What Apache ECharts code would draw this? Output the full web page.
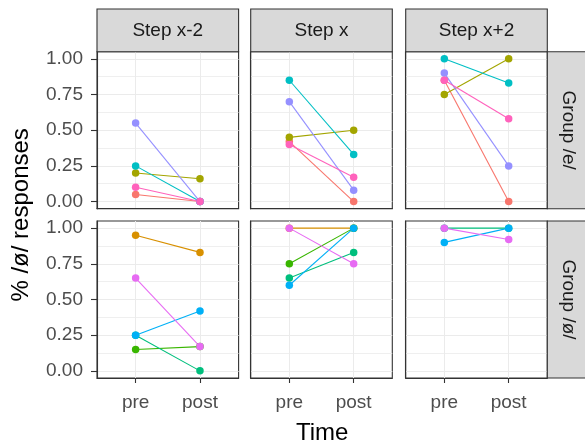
<!DOCTYPE html>
<html>
<head>
<meta charset="utf-8">
<script src="https://cdn.jsdelivr.net/npm/echarts@6/dist/echarts.min.js"></script>
<style>html,body{margin:0;padding:0;background:#fff}#c{width:585px;height:445px}</style>
</head>
<body>
<div id="c"></div>
<script>
// ---- data ----
const timeLabels = ['pre', 'post'];
const steps = ['Step x-2', 'Step x', 'Step x+2'];
const groups = ['Group /e/', 'Group /ø/'];
const yTicks = [0, 0.25, 0.5, 0.75, 1];
const yMinor = [0.125, 0.375, 0.625, 0.875];

// each array: one [pre, post] pair per step (Step x-2, Step x, Step x+2); null = no data
// Group /e/
const eRed    = [[0.05, 0.00], [0.42, 0.00], [0.85, 0.00]];
const eOlive  = [[0.20, 0.16], [0.45, 0.50], [0.75, 1.00]];
const eCyan   = [[0.25, 0.00], [0.85, 0.33], [1.00, 0.83]];
const ePurple = [[0.55, 0.00], [0.70, 0.08], [0.90, 0.25]];
const ePink   = [[0.10, 0.00], [0.40, 0.17], [0.85, 0.58]];
// Group /ø/
const oOrange = [[0.95, 0.83], [1.00, 1.00], null];
const oGreen  = [[0.15, 0.17], [0.75, 1.00], null];
const oTeal   = [[0.25, 0.00], [0.65, 0.83], [1.00, 1.00]];
const oBlue   = [[0.25, 0.42], [0.60, 1.00], [0.90, 1.00]];
const oViolet = [[0.65, 0.17], [1.00, 0.75], [1.00, 0.92]];

const subjects = [
  { row: 0, color: '#F8766D', vals: eRed },
  { row: 1, color: '#D89000', vals: oOrange },
  { row: 0, color: '#A3A500', vals: eOlive },
  { row: 1, color: '#39B600', vals: oGreen },
  { row: 1, color: '#00BF7D', vals: oTeal },
  { row: 0, color: '#00BFC4', vals: eCyan },
  { row: 1, color: '#00B0F6', vals: oBlue },
  { row: 0, color: '#9590FF', vals: ePurple },
  { row: 1, color: '#E76BF3', vals: oViolet },
  { row: 0, color: '#FF62BC', vals: ePink }
];

// ---- layout ----
const colLeft = [97, 250.7, 405.7];
const panelW = 141.6;
const rowTop = [51.7, 221];
const panelH = 157;
const stripH = 42.7;
const FONT = 'Liberation Sans, Arial, sans-serif';

const grids = [], xAxes = [], yAxes = [], series = [], graphics = [];
for (let r = 0; r < 2; r++) {
  for (let c = 0; c < 3; c++) {
    const i = r * 3 + c;
    grids.push({ left: colLeft[c], top: rowTop[r], width: panelW, height: panelH,
      show: true, borderColor: '#333333', borderWidth: 1.1, backgroundColor: '#fff', containLabel: false });
    const bottomRow = r === 1, leftCol = c === 0;
    xAxes.push({
      type: 'value', gridIndex: i, min: 0.4, max: 2.6, position: 'bottom',
      axisLine: { show: true, onZero: false, lineStyle: { color: '#333333', width: 1.1 } },
      axisTick: { show: bottomRow, length: 5, lineStyle: { color: '#333333', width: 1.1 }, customValues: [1, 2] },
      axisLabel: { show: bottomRow, customValues: [1, 2], formatter: v => timeLabels[Math.round(v) - 1],
        fontSize: 19, color: '#4D4D4D', fontFamily: FONT, margin: 15 },
      splitLine: { show: true, lineStyle: { color: '#EBEBEB', width: 1 } }
    });
    yAxes.push({
      type: 'value', gridIndex: i, min: -0.05, max: 1.05, position: 'left',
      axisLine: { show: true, onZero: false, lineStyle: { color: '#333333', width: 1.1 } },
      axisTick: { show: leftCol, length: 6, lineStyle: { color: '#333333', width: 1.1 }, customValues: yTicks },
      axisLabel: { show: leftCol, customValues: yTicks, formatter: v => v.toFixed(2),
        fontSize: 19, color: '#4D4D4D', fontFamily: FONT, margin: 14 },
      splitLine: { show: true, lineStyle: { color: '#EBEBEB', width: 1.1 } }
    });
    yAxes.push({
      type: 'value', gridIndex: i, min: -0.05, max: 1.05, position: 'left',
      axisLine: { show: false },
      axisTick: { show: false, customValues: yMinor },
      axisLabel: { show: false, customValues: yMinor },
      splitLine: { show: true, lineStyle: { color: '#EBEBEB', width: 0.8 } }
    });
  }
}

// lines first, then points on top
subjects.forEach(s => {
  s.vals.forEach((pair, c) => {
    if (!pair) return;
    const i = s.row * 3 + c;
    series.push({
      type: 'line', xAxisIndex: i, yAxisIndex: i * 2, z: 3,
      data: [[1, pair[0]], [2, pair[1]]],
      symbol: 'none', silent: true,
      lineStyle: { color: s.color, width: 1.1 }
    });
  });
});
subjects.forEach(s => {
  s.vals.forEach((pair, c) => {
    if (!pair) return;
    const i = s.row * 3 + c;
    series.push({
      type: 'scatter', xAxisIndex: i, yAxisIndex: i * 2, z: 4,
      data: [[1, pair[0]], [2, pair[1]]],
      symbol: 'circle', symbolSize: 7.5, silent: true,
      itemStyle: { color: s.color, opacity: 1 }
    });
  });
});

// strips
steps.forEach((s, c) => {
  graphics.push({ type: 'rect', z: 10, shape: { x: colLeft[c], y: rowTop[0] - stripH, width: panelW, height: stripH },
    style: { fill: '#D9D9D9', stroke: '#333333', lineWidth: 1.1 } });
  graphics.push({ type: 'text', z: 11, x: colLeft[c] + panelW / 2, y: rowTop[0] - stripH / 2,
    style: { text: s, fill: '#1A1A1A', font: '19px ' + FONT, align: 'center', verticalAlign: 'middle' } });
});
groups.forEach((g, r) => {
  const sx = colLeft[2] + panelW;
  graphics.push({ type: 'rect', z: 10, shape: { x: sx, y: rowTop[r], width: stripH, height: panelH },
    style: { fill: '#D9D9D9', stroke: '#333333', lineWidth: 1.1 } });
  graphics.push({ type: 'text', z: 11, x: sx + stripH / 2, y: rowTop[r] + panelH / 2, rotation: -Math.PI / 2,
    style: { text: g, fill: '#1A1A1A', font: '19px ' + FONT, align: 'center', verticalAlign: 'middle' } });
});
// axis titles
graphics.push({ type: 'text', z: 11, x: (colLeft[0] + colLeft[2] + panelW) / 2, y: 433,
  style: { text: 'Time', fill: '#000', font: '24px ' + FONT, align: 'center', verticalAlign: 'middle' } });
graphics.push({ type: 'text', z: 11, x: 21, y: (rowTop[0] + rowTop[1] + panelH) / 2, rotation: Math.PI / 2,
  style: { text: '% /ø/ responses', fill: '#000', font: '24px ' + FONT, align: 'center', verticalAlign: 'middle' } });

const chart = echarts.init(document.getElementById('c'), null, { renderer: 'canvas' });
chart.setOption({
  animation: false,
  backgroundColor: '#fff',
  grid: grids, xAxis: xAxes, yAxis: yAxes, series: series, graphic: graphics
});
</script>
</body>
</html>
